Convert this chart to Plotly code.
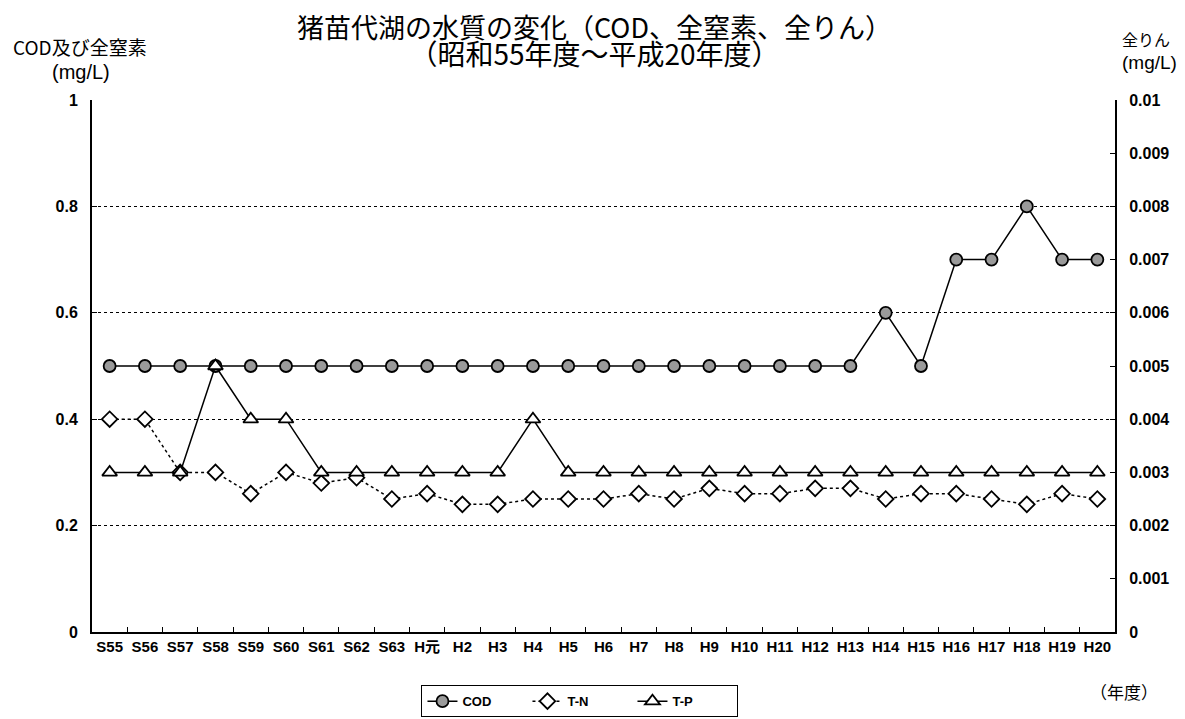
import plotly.graph_objects as go

years = ["S55", "S56", "S57", "S58", "S59", "S60", "S61", "S62", "S63", "H元",
         "H2", "H3", "H4", "H5", "H6", "H7", "H8", "H9", "H10", "H11", "H12",
         "H13", "H14", "H15", "H16", "H17", "H18", "H19", "H20"]
cod = [0.5, 0.5, 0.5, 0.5, 0.5, 0.5, 0.5, 0.5, 0.5, 0.5,
       0.5, 0.5, 0.5, 0.5, 0.5, 0.5, 0.5, 0.5, 0.5, 0.5, 0.5,
       0.5, 0.6, 0.5, 0.7, 0.7, 0.8, 0.7, 0.7]
tn = [0.40, 0.40, 0.30, 0.30, 0.26, 0.30, 0.28, 0.29, 0.25, 0.26,
      0.24, 0.24, 0.25, 0.25, 0.25, 0.26, 0.25, 0.27, 0.26, 0.26, 0.27,
      0.27, 0.25, 0.26, 0.26, 0.25, 0.24, 0.26, 0.25]
tp = [0.003, 0.003, 0.003, 0.005, 0.004, 0.004, 0.003, 0.003, 0.003, 0.003,
      0.003, 0.003, 0.004, 0.003, 0.003, 0.003, 0.003, 0.003, 0.003, 0.003, 0.003,
      0.003, 0.003, 0.003, 0.003, 0.003, 0.003, 0.003, 0.003]

JP = "Noto Sans CJK JP"
LAT = "Liberation Sans"
TICK = "Liberation Sans, Noto Sans CJK JP"

# the page body has an 8px margin, so the figure is drawn 8px smaller
OFF = 8
W, H = 1185 - OFF, 719 - OFF
ML, MR, MT, MB = 92 - OFF, 70, 100 - OFF, 87

fig = go.Figure()
fig.add_trace(go.Scatter(
    x=years, y=cod, name="COD", mode="lines+markers",
    line=dict(color="black", width=1.5),
    marker=dict(symbol="circle", size=12, color="#9a9a9a",
                line=dict(color="black", width=1.8)),
))
fig.add_trace(go.Scatter(
    x=years, y=tn, name="T-N", mode="lines+markers",
    line=dict(color="black", width=1.5, dash="dot"),
    marker=dict(symbol="diamond", size=12, color="white",
                line=dict(color="black", width=1.8)),
))
fig.add_trace(go.Scatter(
    x=years, y=tp, name="T-P", mode="lines+markers", yaxis="y2",
    line=dict(color="black", width=1.5),
    marker=dict(symbol="triangle-up", size=13, color="white",
                line=dict(color="black", width=1.8)),
))

fig.update_layout(
    width=W, height=H,
    margin=dict(l=ML, r=MR, t=MT, b=MB, autoexpand=False),
    paper_bgcolor="white", plot_bgcolor="white",
    font=dict(family=JP, color="black", size=13),
    showlegend=True,
    legend=dict(orientation="h", x=0.477, xanchor="center", y=-0.1, yanchor="top",
                bordercolor="black", borderwidth=1, bgcolor="white",
                font=dict(family=TICK, size=13, weight="bold"), entrywidth=60,
                entrywidthmode="pixels", tracegroupgap=0),
    xaxis=dict(type="category", range=[-0.5, 28.5], showgrid=False,
               showline=True, linecolor="black", linewidth=2,
               ticks="inside", ticklen=5, tickcolor="black", tickson="boundaries",
               tickfont=dict(family=TICK, size=15, weight="bold"), tickangle=0,
               zeroline=False, automargin=False),
    yaxis=dict(range=[0, 1], dtick=0.2, showgrid=True, gridcolor="black",
               griddash="dot", gridwidth=1, showline=True, linecolor="black",
               linewidth=2, ticks="inside", ticklen=5, tickcolor="black",
               tickfont=dict(family=TICK, size=16, weight="bold"), zeroline=False,
               ticklabelstandoff=9, automargin=False),
    yaxis2=dict(range=[0, 0.01], dtick=0.001, overlaying="y", side="right",
                showgrid=False, showline=True, linecolor="black", linewidth=2,
                ticks="inside", ticklen=5, tickcolor="black",
                tickfont=dict(family=TICK, size=16, weight="bold"), zeroline=False,
                ticklabelstandoff=9, automargin=False),
)

# annotations given in reference pixel coordinates (centre of text block)
labels = [
    ('<span style="font-size:27px">猪苗代湖の水質の変化（COD、全窒素、全りん）</span><br>'
     '<span style="font-size:28px">（昭和55年度～平成20年度）</span>', 594, 40, 21, JP),
    ("COD及び全窒素", 80, 47, 19, JP),
    ("(mg/L)", 81, 72, 20, LAT),
    ("全りん", 1146, 39, 16, JP),
    ("(mg/L)", 1149, 62, 19, LAT),
    ("（年度）", 1124, 691, 17, JP),
]
L, R, T, B = ML, W - MR, MT, H - MB
for text, px, py, size, fam in labels:
    fig.add_annotation(
        text=text, xref="paper", yref="paper", showarrow=False,
        x=(px - OFF - L) / (R - L), y=(B - (py - OFF)) / (B - T),
        xanchor="center", yanchor="middle", align="center",
        font=dict(family=fam, size=size),
    )

fig.write_html("out.html")
